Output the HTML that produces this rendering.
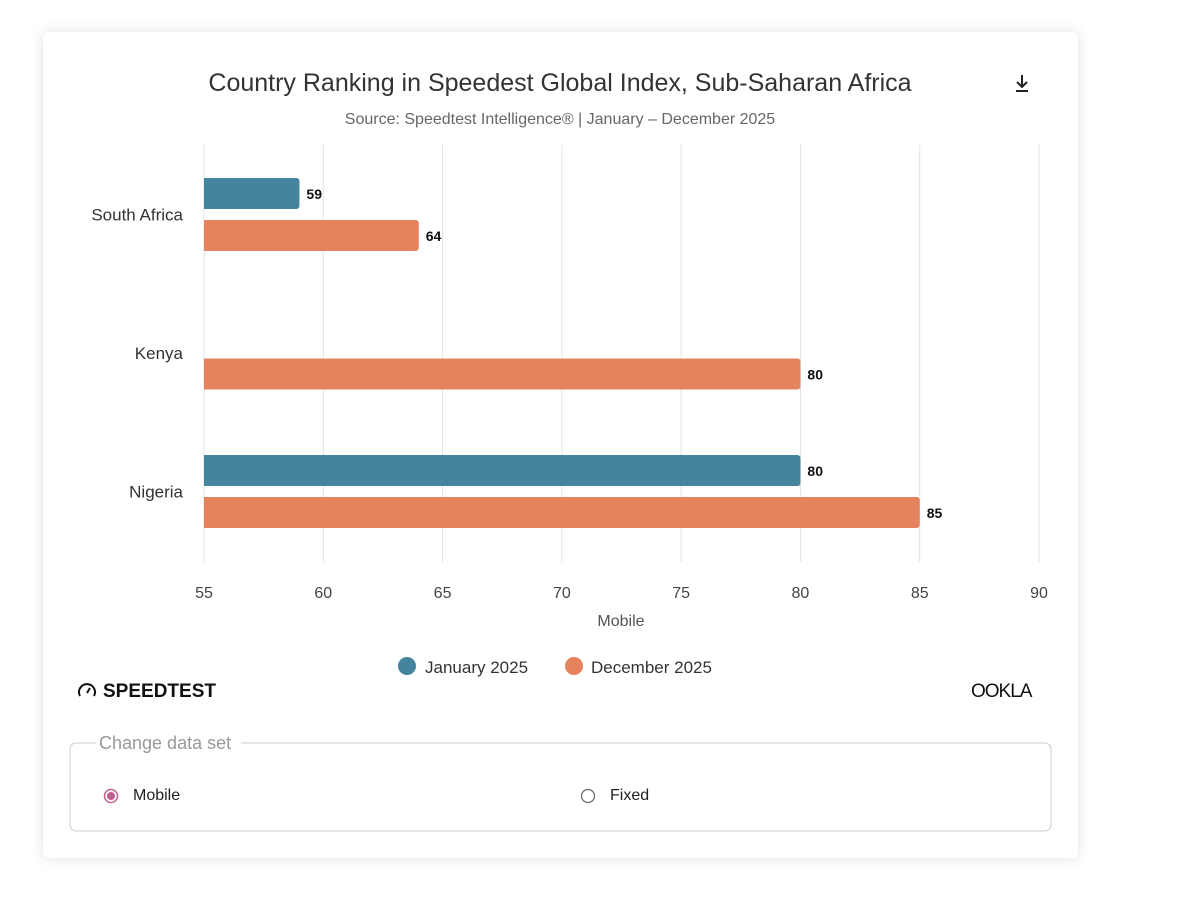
<!DOCTYPE html>
<html><head><meta charset="utf-8"><style>
body{margin:0;background:#fff;width:1200px;height:917px;overflow:hidden;font-family:"Liberation Sans",sans-serif;}
.card{position:absolute;left:43px;top:32px;width:1035px;height:826px;background:#fff;border-radius:6px;box-shadow:0 0 14px rgba(0,0,0,0.12);}
</style></head><body>
<div class="card"></div>
<svg id="chart" width="1200" height="917" style="position:absolute;left:0;top:0">
<text x="560" y="91" text-anchor="middle" font-size="25" fill="#333">Country Ranking in Speedest Global Index, Sub-Saharan Africa</text>
<text x="560" y="124" text-anchor="middle" font-size="16" fill="#666">Source: Speedtest Intelligence® | January – December 2025</text>
<g stroke="#222" stroke-width="2" fill="none"><path d="M1022 75v12M1017 82l5 5 5-5M1016 91h12"/></g>
<g id="grid"></g><g id="bars"></g><g id="labels"></g>
<text x="621" y="626" text-anchor="middle" font-size="16" fill="#555">Mobile</text>
<g><circle cx="407" cy="666" r="9" fill="#44849c"/><text x="425" y="673" font-size="17" fill="#333">January 2025</text></g>
<g><circle cx="574" cy="666" r="9" fill="#e5835f"/><text x="591" y="673" font-size="17" fill="#333">December 2025</text></g>
<g><path d="M80 696a8 8 0 1 1 14 0" stroke="#111" stroke-width="2" fill="none"/><path d="M87 693l3-5" stroke="#111" stroke-width="2"/><text x="103" y="697" font-size="19" font-weight="bold" fill="#111">SPEEDTEST</text></g>
<text x="971" y="697" font-size="19" fill="#111" letter-spacing="-1">OOKLA</text>
<g>
<path d="M96 743H76a6 6 0 0 0-6 6v76a6 6 0 0 0 6 6h969a6 6 0 0 0 6-6v-76a6 6 0 0 0-6-6H241" stroke="#ccc" fill="none"/>
<text x="99" y="749" font-size="18" fill="#999">Change data set</text></g>
<g><circle cx="111" cy="796" r="6.5" fill="#fff" stroke="#c06090" stroke-width="1.5"/><circle cx="111" cy="796" r="4" fill="#c06090"/><text x="133" y="800" font-size="16" fill="#222">Mobile</text></g>
<g><circle cx="588" cy="796" r="6.5" fill="#fff" stroke="#666" stroke-width="1.2"/><text x="610" y="800" font-size="16" fill="#222">Fixed</text></g>
</svg>
<script>
const categories=["South Africa","Kenya","Nigeria"];
const jan2025=[59,null,80];
const dec2025=[64,80,85];
const ticks=[55,60,65,70,75,80,85,90];
const ns="http://www.w3.org/2000/svg";
const x=v=>204+(v-55)*(835/35);
const catY=i=>214.5+i*138.5;
function mk(t,a,p){const e=document.createElementNS(ns,t);for(const k in a)e.setAttribute(k,a[k]);p.appendChild(e);return e;}
const grid=document.getElementById('grid'),bars=document.getElementById('bars'),lab=document.getElementById('labels');
ticks.forEach(t=>{
 const l=mk('line',{x1:x(t),x2:x(t),y1:145,y2:562,stroke:'#e3e3e3'},grid);
 
 
 const tx=mk('text',{x:x(t),y:598,'text-anchor':'middle','font-size':16,fill:'#444'},lab);tx.textContent=t;
 
 
});
function bar(v,y,col,name){
 if(v==null)return;
 const w=x(v)-204;
 const p=mk('path',{d:`M204 ${y}h${w-3}a3 3 0 0 1 3 3v25a3 3 0 0 1-3 3h-${w-3}z`,fill:col},bars);
 
 
 const t=mk('text',{x:x(v)+7,y:y+21,'font-size':14,'font-weight':'bold',fill:'#111'},lab);t.textContent=v;
 
 
}
categories.forEach((c,i)=>{
 const cy=catY(i);
 const t=mk('text',{x:183,y:cy+6,'text-anchor':'end','font-size':17,fill:'#333'},lab);t.textContent=c;
 
 
 bar(jan2025[i],cy-36.5,'#44849c','bar-jan-'+i);
 bar(dec2025[i],cy+5.5,'#e5835f','bar-dec-'+i);
});
</script>
</body></html>
